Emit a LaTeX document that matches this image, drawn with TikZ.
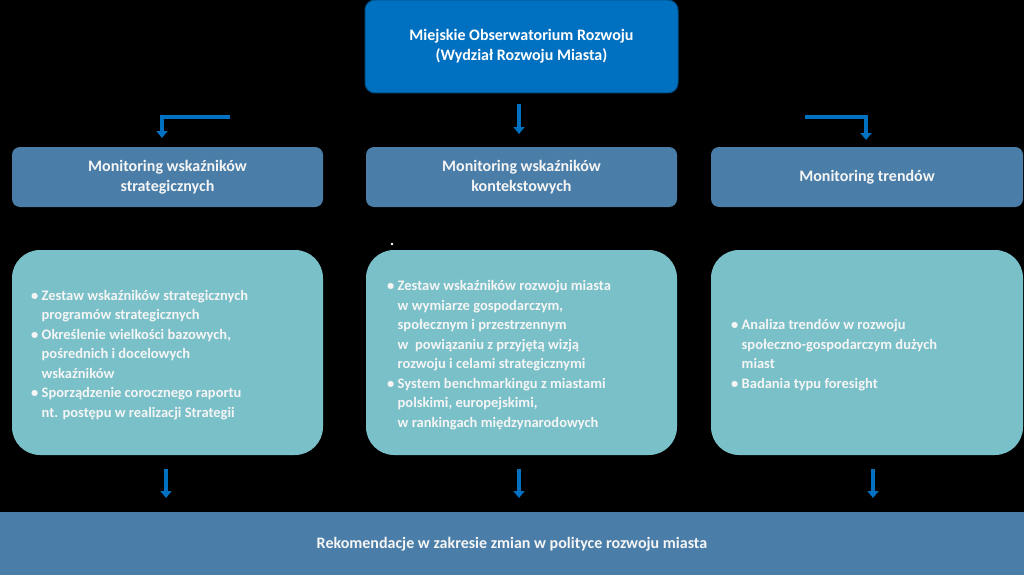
\documentclass[tikz,border=0pt]{standalone}
\usepackage{fontspec}
\setmainfont{Carlito}
\usetikzlibrary{arrows.meta}
\definecolor{topb}{RGB}{0,112,192}
\definecolor{midb}{RGB}{74,126,168}
\definecolor{teal}{RGB}{122,192,200}
\definecolor{txt}{RGB}{245,245,245}
\tikzset{
  hdr/.style={fill=midb,rounded corners=8pt,draw=none},
  body/.style={fill=teal,rounded corners=28pt,draw=none},
  lbl/.style={text=txt,font=\bfseries\fontsize{16}{20}\selectfont,align=center},
  lst/.style={text=txt,font=\bfseries\fontsize{14.5}{19.5}\selectfont,align=left,anchor=west,inner sep=0},
  arr/.style={draw=topb,line width=3.5pt,-{Triangle[length=7pt,width=11pt]}}
}
\newcommand{\ind}{\phantom{• }}
\begin{document}
\begin{tikzpicture}[x=1pt,y=-1pt]
\fill[black] (0,0) rectangle (1024,575);
\useasboundingbox (0,0) rectangle (1024,575);
% top
\draw[fill=topb,draw=topb!70!black,line width=1pt,rounded corners=10pt] (365,0) rectangle (678,93);
\node[lbl,text=white] (top) at (521.5,46) {Miejskie Obserwatorium Rozwoju\\(Wydział Rozwoju Miasta)};
% headers
\fill[hdr] (12,147) rectangle (323,207); \node[lbl] (h1) at (167.5,177) {Monitoring wskaźników\\strategicznych};
\fill[hdr] (366,147) rectangle (677,207); \node[lbl] (h2) at (521.5,177) {Monitoring wskaźników\\kontekstowych};
\fill[hdr] (711,147) rectangle (1023,207); \node[lbl] (h3) at (867,177) {Monitoring trendów};
% bodies
\fill[body] (12,250) rectangle (323,455);
\fill[body] (366,250) rectangle (677,455);
\fill[body] (711,250) rectangle (1023,455);
\node[lst] (b1) at (31,355) {• Zestaw wskaźników strategicznych\\\ind programów strategicznych\\• Określenie wielkości bazowych,\\\ind pośrednich i docelowych\\\ind wskaźników\\• Sporządzenie corocznego raportu\\\ind nt. postępu w realizacji Strategii};
\node[lst] (b2) at (387,355) {• Zestaw wskaźników rozwoju miasta\\\ind w wymiarze gospodarczym,\\\ind społecznym i przestrzennym\\\ind w\ \ powiązaniu z przyjętą wizją\\\ind rozwoju i celami strategicznymi\\• System benchmarkingu z miastami\\\ind polskimi, europejskimi,\\\ind w rankingach międzynarodowych};
\node[lst] (b3) at (731,355) {• Analiza trendów w rozwoju\\\ind społeczno-gospodarczym dużych\\\ind miast\\• Badania typu foresight};
\fill[white] (392,244) circle (1.3);
% bottom
\fill[midb] (0,512) rectangle (1024,575);
\node[lbl] (rec) at (512,544) {Rekomendacje w zakresie zmian w polityce rozwoju miasta};
% arrows
\coordinate (a1) at (230,117); \coordinate (a1e) at (162,138);
\draw[arr] (a1) -| (a1e);
\coordinate (a2) at (519,104); \coordinate (a2e) at (519,134);
\draw[arr] (a2) -- (a2e);
\coordinate (a3) at (805,117); \coordinate (a3e) at (866,140);
\draw[arr] (a3) -| (a3e);
\foreach \x in {166,519,873}{\draw[arr] (\x,469) -- (\x,498);}
\end{tikzpicture}
\end{document}
